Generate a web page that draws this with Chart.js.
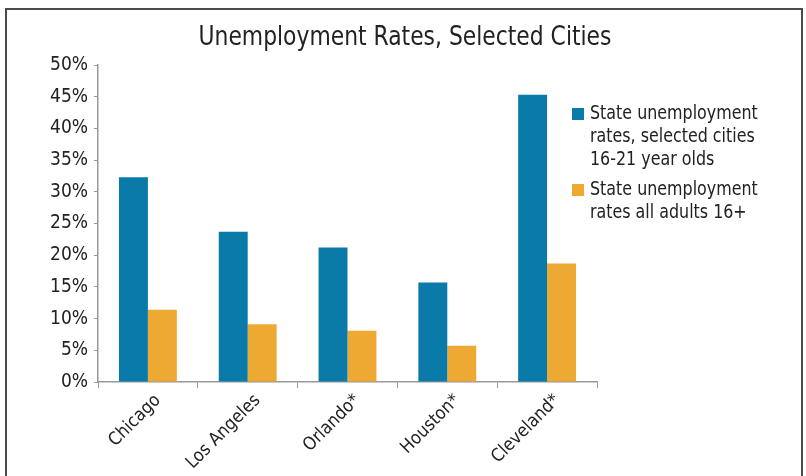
<!DOCTYPE html>
<html>
<head>
<meta charset="utf-8">
<script src="https://cdn.jsdelivr.net/npm/chart.js@4.4.0/dist/chart.umd.min.js"></script>
<style>
  html, body { margin: 0; padding: 0; background: #fff; }
  #frame { position: absolute; left: 5px; top: 8px; width: 794px; height: 480px; border: 2px solid #4a4a4a; }
  #wrap { position: absolute; left: 0; top: 0; width: 806px; height: 476px; }
</style>
</head>
<body>
<div id="frame"></div>
<div id="wrap"><canvas id="chart"></canvas></div>
<script>
const FONT = "'Liberation Sans Narrow', 'DejaVu Sans Condensed', 'Roboto', sans-serif";

const cities = ['Chicago', 'Los Angeles', 'Orlando*', 'Houston*', 'Cleveland*'];
const youthRates = [32.3, 23.7, 21.2, 15.7, 45.3];
const adultRates = [11.4, 9.1, 8.1, 5.7, 18.7];
const youthLabel = ['State unemployment', 'rates, selected cities', '16-21 year olds'];
const adultLabel = ['State unemployment', 'rates all adults 16+'];
const yTicks = [0, 5, 10, 15, 20, 25, 30, 35, 40, 45, 50];
const titleText = 'Unemployment Rates, Selected Cities';

const blue = '#0a7aa9';
const orange = '#eea932';

// title and legend drawn by hand: the title is centred on the whole frame,
// and the legend labels wrap over several lines
const titleAndLegend = {
    id: 'titleAndLegend',
    afterDraw(chart) {
        const ctx = chart.ctx;
        ctx.save();
        ctx.fillStyle = '#222';
        ctx.font = '27px ' + FONT;
        ctx.textAlign = 'center';
        ctx.textBaseline = 'middle';
        ctx.translate(405, 38);
        ctx.scale(0.9, 1);
        ctx.fillText(titleText, 0, 0);
        ctx.restore();

        const x = 572;
        let y = 104;
        ctx.save();
        ctx.font = '19px ' + FONT;
        ctx.textBaseline = 'middle';
        chart.data.datasets.forEach(ds => {
            ctx.fillStyle = ds.backgroundColor;
            ctx.fillRect(x, y + 4, 12, 12);
            ctx.fillStyle = '#222';
            ds.legendLines.forEach((line, i) => {
                ctx.save();
                ctx.translate(x + 18, y + 10 + i * 23);
                ctx.scale(0.93, 1);
                ctx.fillText(line, 0, 0);
                ctx.restore();
            });
            y += ds.legendLines.length * 23 + 7;
        });
        ctx.restore();
    }
};

new Chart(document.getElementById('chart'), {
    type: 'bar',
    data: {
        labels: cities,
        datasets: [
            { label: youthLabel.join(' '), legendLines: youthLabel, data: youthRates, backgroundColor: blue },
            { label: adultLabel.join(' '), legendLines: adultLabel, data: adultRates, backgroundColor: orange }
        ]
    },
    options: {
        responsive: true,
        maintainAspectRatio: false,
        animation: false,
        layout: { padding: { left: 0, right: 209, top: 65, bottom: 0 } },
        datasets: { bar: { categoryPercentage: 0.58, barPercentage: 1.0 } },
        plugins: {
            legend: { display: false },
            tooltip: { enabled: false },
            title: { display: false }
        },
        scales: {
            x: {
                grid: { display: true, drawOnChartArea: false, offset: true, tickLength: 6, color: '#999' },
                border: { color: '#999', width: 1.5 },
                ticks: {
                    color: '#222',
                    font: { family: FONT, size: 18 },
                    minRotation: 45,
                    maxRotation: 45,
                    padding: 2,
                    labelOffset: 10
                },
                afterFit(scale) { scale.height = 94; }
            },
            y: {
                min: 0,
                max: 50,
                afterBuildTicks(scale) { scale.ticks = yTicks.map(v => ({ value: v })); },
                grid: { display: true, drawOnChartArea: false, tickLength: 4, color: '#999' },
                border: { color: '#999', width: 1.5 },
                ticks: {
                    color: '#222',
                    font: { family: FONT, size: 19 },
                    padding: 6,
                    callback: v => v + '%'
                },
                afterFit(scale) { scale.width = 98; }
            }
        }
    },
    plugins: [titleAndLegend]
});
</script>
</body>
</html>
